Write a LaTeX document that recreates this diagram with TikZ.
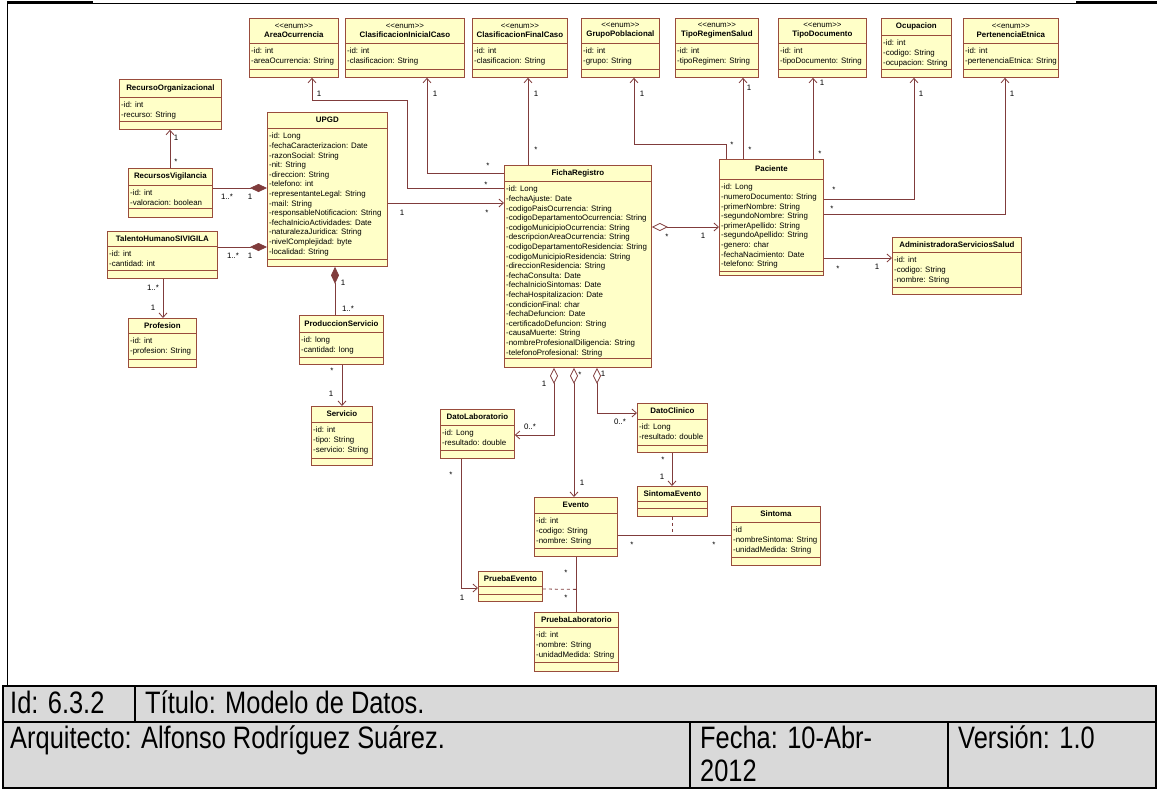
\documentclass[tikz,border=0pt]{standalone}
\usepackage{fontspec}
\setmainfont{Liberation Sans}
\newfontfamily\tablefont{Liberation Sans}[FakeStretch=0.82]
\usetikzlibrary{arrows.meta}

\definecolor{classfill}{RGB}{255,255,200}
\definecolor{classdraw}{RGB}{153,76,60}
\definecolor{assocline}{RGB}{128,60,60}
\definecolor{tablegray}{RGB}{217,217,217}

\newcommand{\enumtag}{<\kern0pt<enum>\kern0pt>}

% class box: name, x, y, width, height, name part, attribute part, title, attributes
\newcommand{\umlclass}[9]{%
  \node[classbox, minimum width=#4pt, minimum height=#5pt, anchor=north west] (#1) at (#2,#3) {};
  \draw[classsep] ([yshift=-#6pt]#1.north west) -- ([yshift=-#6pt]#1.north east);
  \draw[classsep] ([yshift=-#6pt-#7pt]#1.north west) -- ([yshift=-#6pt-#7pt]#1.north east);
  \node[classtitle] (#1-t) at ([yshift=-#6pt/2]#1.north) {#8};
  \node[classattr] (#1-a) at ([xshift=2pt, yshift=-#6pt-5pt]#1.north west) {#9};
}

\begin{document}
\begin{tikzpicture}[x=1pt, y=-1pt,
  classbox/.style={draw=classdraw, fill=classfill, line width=0.8pt, inner sep=0pt},
  classsep/.style={draw=classdraw, line width=0.8pt},
  classtitle/.style={font=\fontsize{7.9}{9}\selectfont, align=center, inner sep=0pt},
  classattr/.style={font=\fontsize{7.9}{9.6}\selectfont, align=left, anchor=north west, inner sep=0pt},
  assoc/.style={draw=assocline, line width=0.8pt},
  navig/.style={assoc, -{Straight Barb[length=4.5pt,width=8pt]}},
  compos/.style={assoc, -{Diamond[length=17pt,width=8pt]}},
  aggr/.style={assoc, {Diamond[open,length=16pt,width=8pt]}-{Straight Barb[length=4.5pt,width=8pt]}},
  mult/.style={font=\fontsize{7.9}{9}\selectfont, inner sep=0pt},
  cell/.style={font=\tablefont\fontsize{31}{36}\selectfont, anchor=base west, inner sep=0pt}]
\useasboundingbox (0,0) rectangle (1157,788);

% frame of the drawing
\draw[line width=1pt] (7,686) -- (7,3) -- (1157,3);
\draw[line width=3pt] (7,2) -- (93,2);
\draw[line width=3pt] (1076,2) -- (1157,2);

% enumerations
\umlclass{area}{249}{18}{89}{59}{25}{26}{\enumtag\\\textbf{AreaOcurrencia}}{-id: int\\-areaOcurrencia: String}
\umlclass{clasini}{345}{18}{119}{59}{25}{26}{\enumtag\\\textbf{ClasificacionInicialCaso}}{-id: int\\-clasificacion: String}
\umlclass{clasfin}{472}{18}{95}{59}{25}{26}{\enumtag\\\textbf{ClasificacionFinalCaso}}{-id: int\\-clasificacion: String}
\umlclass{grupo}{581}{18}{78}{59}{25}{26}{\enumtag\\\textbf{GrupoPoblacional}}{-id: int\\-grupo: String}
\umlclass{regimen}{675}{18}{83}{59}{25}{26}{\enumtag\\\textbf{TipoRegimenSalud}}{-id: int\\-tipoRegimen: String}
\umlclass{tipodoc}{778}{18}{88}{59}{25}{26}{\enumtag\\\textbf{TipoDocumento}}{-id: int\\-tipoDocumento: String}
\umlclass{ocupacion}{881}{18}{70}{59}{17}{34}{\textbf{Ocupacion}}{-id: int\\-codigo: String\\-ocupacion: String}
\umlclass{etnica}{963}{18}{95}{59}{25}{26}{\enumtag\\\textbf{PertenenciaEtnica}}{-id: int\\-pertenenciaEtnica: String}

% classes
\umlclass{recorg}{119}{79}{102}{50}{18}{24}{\textbf{RecursoOrganizacional}}{-id: int\\-recurso: String}
\umlclass{upgd}{267}{112}{120}{154}{16}{131}{\textbf{UPGD}}{-id: Long\\-fechaCaracterizacion: Date\\-razonSocial: String\\-nit: String\\-direccion: String\\-telefono: int\\-representanteLegal: String\\-mail: String\\-responsableNotificacion: String\\-fechaInicioActividades: Date\\-naturalezaJuridica: String\\-nivelComplejidad: byte\\-localidad: String}
\umlclass{recvig}{128}{168}{84}{49}{17}{23}{\textbf{RecursosVigilancia}}{-id: int\\-valoracion: boolean}
\umlclass{talento}{107}{231}{110}{47}{15}{24}{\textbf{TalentoHumanoSIVIGILA}}{-id: int\\-cantidad: int}
\umlclass{profesion}{128}{318}{68}{49}{15}{26}{\textbf{Profesion}}{-id: int\\-profesion: String}
\umlclass{produccion}{299}{315}{84}{49}{17}{25}{\textbf{ProduccionServicio}}{-id: long\\-cantidad: long}
\umlclass{servicio}{311}{406}{61}{59}{16}{36}{\textbf{Servicio}}{-id: int\\-tipo: String\\-servicio: String}
\umlclass{ficha}{504}{165}{147}{202}{16}{177}{\textbf{FichaRegistro}}{-id: Long\\-fechaAjuste: Date\\-codigoPaisOcurrencia: String\\-codigoDepartamentoOcurrencia: String\\-codigoMunicipioOcurrencia: String\\-descripcionAreaOcurrencia: String\\-codigoDepartamentoResidencia: String\\-codigoMunicipioResidencia: String\\-direccionResidencia: String\\-fechaConsulta: Date\\-fechaInicioSintomas: Date\\-fechaHospitalizacion: Date\\-condicionFinal: char\\-fechaDefuncion: Date\\-certificadoDefuncion: String\\-causaMuerte: String\\-nombreProfesionalDiligencia: String\\-telefonoProfesional: String}
\umlclass{paciente}{719}{159}{104}{116}{20}{92}{\textbf{Paciente}}{-id: Long\\-numeroDocumento: String\\-primerNombre: String\\-segundoNombre: String\\-primerApellido: String\\-segundoApellido: String\\-genero: char\\-fechaNacimiento: Date\\-telefono: String}
\umlclass{admin}{892}{237}{129}{57}{15}{35}{\textbf{AdministradoraServiciosSalud}}{-id: int\\-codigo: String\\-nombre: String}
\umlclass{datolab}{440}{409}{74}{49}{16}{25}{\textbf{DatoLaboratorio}}{-id: Long\\-resultado: double}
\umlclass{datocli}{637}{403}{70}{49}{16}{26}{\textbf{DatoClinico}}{-id: Long\\-resultado: double}
\umlclass{sintev}{637}{486}{70}{30}{15}{7}{\textbf{SintomaEvento}}{}
\umlclass{evento}{534}{497}{83}{59}{16}{35}{\textbf{Evento}}{-id: int\\-codigo: String\\-nombre: String}
\umlclass{sintoma}{731}{506}{89}{59}{16}{35}{\textbf{Sintoma}}{-id\\-nombreSintoma: String\\-unidadMedida: String}
\umlclass{pruebaev}{478}{571}{64}{30}{15}{8}{\textbf{PruebaEvento}}{}
\umlclass{pruebalab}{534}{612}{84}{59}{15}{35}{\textbf{PruebaLaboratorio}}{-id: int\\-nombre: String\\-unidadMedida: String}

% associations of FichaRegistro with the enumerations
\draw[navig] ([yshift=-23pt]ficha.north west) -| (407,100) -| ([xshift=63pt]area.south west);
\draw[navig] ([yshift=-8pt]ficha.north west) -| ([xshift=82pt]clasini.south west);
\draw[navig] ([xshift=24pt]ficha.north west) -- ([xshift=56pt]clasfin.south west);
\node[mult] (m1) at (319,94) {1};
\node[mult] (m2) at (486,185) {*};
\node[mult] (m3) at (435,94) {1};
\node[mult] (m4) at (488,166) {*};
\node[mult] (m5) at (536,94) {1};
\node[mult] (m6) at (536,150) {*};

% associations of Paciente
\draw[navig] ([xshift=7pt]paciente.north west) -- ++(0,-15) -| ([xshift=53pt]grupo.south west);
\draw[navig] ([xshift=24pt]paciente.north west) -- ([xshift=68pt]regimen.south west);
\draw[navig] ([xshift=94pt]paciente.north west) -- ([xshift=35pt]tipodoc.south west);
\draw[navig] ([yshift=-40pt]paciente.north east) -| ([xshift=33pt]ocupacion.south west);
\draw[navig] ([yshift=-55pt]paciente.north east) -| ([xshift=42pt]etnica.south west);
\draw[navig] ([yshift=-99pt]paciente.north east) -- ([yshift=-21pt]admin.north west);
\node[mult] (m7) at (642,94) {1};
\node[mult] (m8) at (732,145) {*};
\node[mult] (m9) at (749,88) {1};
\node[mult] (m10) at (750,150) {*};
\node[mult] (m11) at (822,83) {1};
\node[mult] (m12) at (820,154) {*};
\node[mult] (m13) at (921,94) {1};
\node[mult] (m14) at (834,190) {*};
\node[mult] (m15) at (1012,94) {1};
\node[mult] (m16) at (832,209) {*};
\node[mult] (m17) at (838,269) {*};
\node[mult] (m18) at (877,267) {1};

% FichaRegistro, UPGD and Paciente
\draw[aggr] ([yshift=-62pt]ficha.north east) -- ([yshift=-68pt]paciente.north west);
\draw[navig] ([yshift=-91pt]upgd.north east) -- ([yshift=-38pt]ficha.north west);
\node[mult] (m19) at (667,237) {*};
\node[mult] (m20) at (703,236) {1};
\node[mult] (m21) at (402,213) {1};
\node[mult] (m22) at (487,213) {*};

% UPGD and its parts
\draw[compos] ([yshift=-20pt]recvig.north east) -- ([yshift=-76pt]upgd.north west);
\draw[compos] ([yshift=-16pt]talento.north east) -- ([yshift=-135pt]upgd.north west);
\draw[compos] ([xshift=36pt]produccion.north west) -- ([xshift=68pt]upgd.south west);
\draw[navig] ([xshift=42pt]recvig.north west) -- ([xshift=51pt]recorg.south west);
\draw[navig] ([xshift=56pt]talento.south west) -- ([xshift=35pt]profesion.north west);
\draw[navig] ([xshift=43pt]produccion.south west) -- ([xshift=31pt]servicio.north west);
\node[mult] (m23) at (227,197) {1..*};
\node[mult] (m24) at (250,197) {1};
\node[mult] (m25) at (233,256) {1..*};
\node[mult] (m26) at (250,256) {1};
\node[mult] (m27) at (176,138) {1};
\node[mult] (m28) at (176,162) {*};
\node[mult] (m29) at (153,288) {1..*};
\node[mult] (m30) at (153,308) {1};
\node[mult] (m31) at (343,283) {1};
\node[mult] (m32) at (348,309) {1..*};
\node[mult] (m33) at (332,371) {*};
\node[mult] (m34) at (331,394) {1};

% parts of FichaRegistro
\draw[aggr] ([xshift=50pt]ficha.south west) |- ([yshift=-26pt]datolab.north east);
\draw[aggr] ([xshift=70pt]ficha.south west) -- ([xshift=40pt]evento.north west);
\draw[aggr] ([xshift=93pt]ficha.south west) |- ([yshift=-10pt]datocli.north west);
\draw[navig] ([xshift=35pt]datocli.south west) -- ([xshift=35pt]sintev.north west);
\node[mult] (m35) at (544,384) {1};
\node[mult] (m36) at (530,427) {0..*};
\node[mult] (m37) at (580,375) {*};
\node[mult] (m38) at (582,483) {1};
\node[mult] (m39) at (603,374) {1};
\node[mult] (m40) at (620,422) {0..*};
\node[mult] (m41) at (663,460) {*};
\node[mult] (m42) at (662,477) {1};

% Evento with Sintoma and PruebaLaboratorio, and the association classes
\draw[assoc] ([yshift=-38pt]evento.north east) -- coordinate[pos=0.482] (evsin) ([yshift=-29pt]sintoma.north west);
\draw[assoc, dashed] (sintev.south) -- (sintev.south |- evsin);
\draw[assoc] ([xshift=42pt]evento.south west) -- coordinate[pos=0.59] (evprueba) ([xshift=42pt]pruebalab.north west);
\draw[assoc, dashed] ([yshift=-18pt]pruebaev.north east) -- (evprueba);
\draw[navig] ([xshift=21pt]datolab.south west) |- ([yshift=-17pt]pruebaev.north west);
\node[mult] (m43) at (632,545) {*};
\node[mult] (m44) at (714,545) {*};
\node[mult] (m45) at (566,573) {*};
\node[mult] (m46) at (566,598) {*};
\node[mult] (m47) at (451,475) {*};
\node[mult] (m48) at (462,598) {1};

% title block
\draw[line width=1.2pt, fill=tablegray] (3,686) rectangle (1156,788);
\draw[line width=1.2pt] (3,722) -- (1156,722);
\draw[line width=1.2pt] (135,686) -- (135,722);
\draw[line width=1.2pt] (690,722) -- (690,788);
\draw[line width=1.2pt] (948,722) -- (948,788);
\node[cell] (idcell) at (10,713) {Id: 6.3.2};
\node[cell] (titlecell) at (145,713) {Título: Modelo de Datos.};
\node[cell] (archcell) at (10,748) {Arquitecto: Alfonso Rodríguez Suárez.};
\node[cell] (datecell) at (700,748) {Fecha: 10-Abr-};
\node[cell] (yearcell) at (700,781) {2012};
\node[cell] (versioncell) at (958,748) {Versión: 1.0};
\end{tikzpicture}
\end{document}
